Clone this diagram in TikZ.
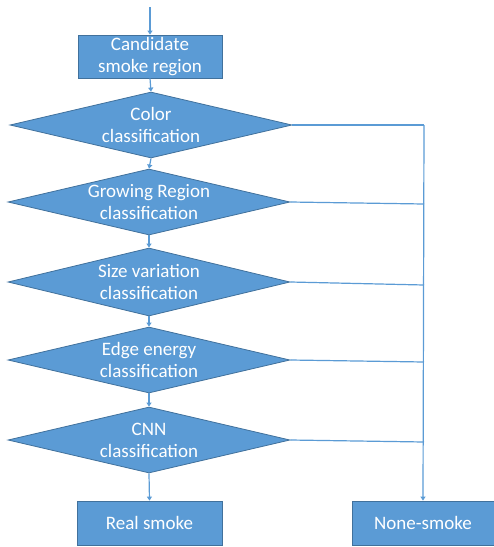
\documentclass[tikz,border=0pt]{standalone}
\usepackage{fontspec}
\setmainfont{Carlito}
\usetikzlibrary{shapes.geometric,arrows.meta}
\definecolor{ofill}{HTML}{5B9BD5}
\definecolor{oline}{HTML}{41719C}
\begin{document}
\begin{tikzpicture}[x=1pt,y=-1pt,
 box/.style={draw=oline,fill=ofill,line width=0.8pt,text=white,align=center,inner sep=0pt,font=\fontsize{19}{22}\selectfont},
 dec/.style={diamond,draw=oline,fill=ofill,line width=0.8pt,inner sep=0pt,minimum width=282pt},
 dtext/.style={text=white,align=center,inner sep=0pt,font=\fontsize{19}{22}\selectfont},
 conn/.style={draw=ofill,line width=1.2pt},
 arr/.style={conn,-{Triangle[width=5pt,length=4pt]}}]
\useasboundingbox (0,0) rectangle (494,547);
\coordinate (start) at (150,7);
\node[box,minimum width=144pt,minimum height=43pt] (cand) at (150,56.5) {Candidate\\smoke region};
\node[dec,minimum height=66pt,label={[dtext]center:{Color\\classification}}] (d1) at (151,125) {};
\node[dec,minimum height=66pt,label={[dtext]center:{Growing Region\\classification}}] (d2) at (149,202) {};
\node[dec,minimum height=68pt,label={[dtext]center:{Size variation\\classification}}] (d3) at (149,282) {};
\node[dec,minimum height=66pt,label={[dtext]center:{Edge energy\\classification}}] (d4) at (149,360) {};
\node[dec,minimum height=66pt,label={[dtext]center:{CNN\\classification}}] (d5) at (149,440) {};
\node[box,minimum width=145pt,minimum height=44pt] (real) at (149.5,523) {Real smoke};
\node[box,minimum width=142pt,minimum height=44pt] (none) at (423,523) {None-smoke};
\coordinate (t1) at (424,125);
\coordinate (t2) at (424,204);
\coordinate (t3) at (424,285);
\coordinate (t4) at (424,362);
\coordinate (t5) at (424,442);
\draw[arr] (start) -- (cand.north);
\draw[arr] (cand.south) -- (d1.north);
\draw[arr] (d1.south) -- (d2.north);
\draw[arr] (d2.south) -- (d3.north);
\draw[arr] (d3.south) -- (d4.north);
\draw[arr] (d4.south) -- (d5.north);
\draw[arr] (d5.south) -- (real.north);
\draw[conn] (d1.east) -- (t1);
\draw[conn] (d2.east) -- (t2);
\draw[conn] (d3.east) -- (t3);
\draw[conn] (d4.east) -- (t4);
\draw[conn] (d5.east) -- (t5);
\draw[arr] (t1) -- (none.north);
\end{tikzpicture}
\end{document}
